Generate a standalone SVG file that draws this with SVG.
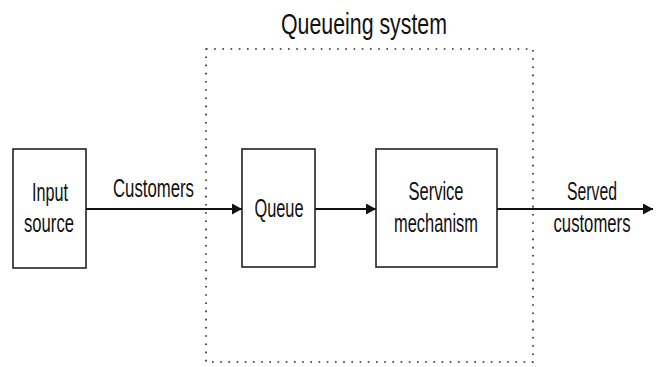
<svg xmlns="http://www.w3.org/2000/svg" width="661" height="367" viewBox="0 0 661 367">
<style>
.box{fill:#fff;stroke:#222;stroke-width:1.6}
.t{font-family:"Liberation Sans",Arial,sans-serif;font-size:26px;fill:#111;text-anchor:middle}
.conn{stroke:#111;stroke-width:2;fill:none}
.dot{fill:none;stroke:#222;stroke-width:1.6;stroke-dasharray:1.6 6.6}
</style>
<defs>
<marker id="ah" viewBox="0 0 10 10" refX="10" refY="5" markerWidth="10" markerHeight="11" markerUnits="userSpaceOnUse" orient="auto" preserveAspectRatio="none">
<path d="M0,0 L10,5 L0,10 z" fill="#111"/>
</marker>
</defs>
<rect width="661" height="367" fill="#fff"/>
<g id="system">
<rect class="dot" x="206" y="49" width="327" height="313"/>
<text class="t" x="364" y="34" style="font-size:30px" textLength="166" lengthAdjust="spacingAndGlyphs">Queueing system</text>
</g>
<g id="connectors">
<line class="conn" x1="86" y1="209" x2="242" y2="209" marker-end="url(#ah)"/>
<line class="conn" x1="315" y1="209" x2="376" y2="209" marker-end="url(#ah)"/>
<line class="conn" x1="497" y1="209" x2="653" y2="209" marker-end="url(#ah)"/>
<text class="t" x="153.5" y="197" textLength="81" lengthAdjust="spacingAndGlyphs">Customers</text>
<text class="t" x="592" y="200" textLength="50" lengthAdjust="spacingAndGlyphs">Served</text>
<text class="t" x="592" y="232" textLength="77" lengthAdjust="spacingAndGlyphs">customers</text>
</g>
<g id="input">
<rect class="box" x="13" y="149" width="73" height="119"/>
<text class="t" x="50" y="200.5" textLength="36" lengthAdjust="spacingAndGlyphs">Input</text>
<text class="t" x="49" y="232" textLength="50" lengthAdjust="spacingAndGlyphs">source</text>
</g>
<g id="queue">
<rect class="box" x="242" y="149" width="73" height="118"/>
<text class="t" x="279" y="217" textLength="49" lengthAdjust="spacingAndGlyphs">Queue</text>
</g>
<g id="service">
<rect class="box" x="376" y="149" width="121" height="118"/>
<text class="t" x="436" y="200" textLength="55" lengthAdjust="spacingAndGlyphs">Service</text>
<text class="t" x="436" y="232" textLength="84" lengthAdjust="spacingAndGlyphs">mechanism</text>
</g>
</svg>
